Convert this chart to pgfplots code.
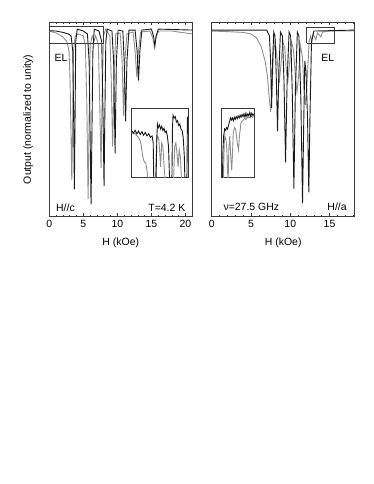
\documentclass[border=0pt]{standalone}
\usepackage{fontspec}
\setmainfont{Liberation Sans}
\usepackage{pgfplots}
\pgfplotsset{compat=1.18}
\definecolor{dk}{HTML}{1A1A1A}
\definecolor{gr}{HTML}{8E8E8E}
\definecolor{fr}{HTML}{3A3A3A}
\begin{document}
\fontsize{10.5}{12.5}\selectfont
\begin{tikzpicture}
\useasboundingbox (0bp,0bp) rectangle (374bp,484bp);
\pgfplotsset{
  main/.style={scale only axis, width=143bp, height=194.4bp, ymin=0, ymax=1,
    ytick=\empty, xtick distance=5, minor x tick num=4, tick align=inside,
    major tick length=3.2bp, minor tick length=1.8bp,
    axis line style={fr, line width=0.8pt}, every tick/.style={fr, line width=0.6pt},
    /pgf/number format/assume math mode=true,
    ticklabel style={font=\fontsize{10.5}{12.5}\selectfont},
    xlabel={H (kOe)},
    every axis x label/.style={at={(axis description cs:0.5,-0.134)}, anchor=center},
    every axis y label/.style={at={(axis description cs:-0.147,0.5)}, rotate=90, anchor=center},
  },
  inset/.style={scale only axis, height=69bp, xmin=0, xmax=1, ymin=0, ymax=1,
    xtick=\empty, ytick=\empty, axis line style={fr, line width=0.7pt}},
  bk/.style={dk, line width=0.9pt, no marks},
  gy/.style={gr, line width=0.9pt, no marks},
}
% ---------------- left panel ----------------
\begin{axis}[main, at={(49.3bp,267.3bp)}, anchor=south west, xmin=0, xmax=21,
  ylabel={Output (normalized to unity)}]
\addplot[gy] coordinates {(0,0.955) (1,0.945) (2,0.925) (2.6,0.9) (2.9,0.85) (3.05,0.7) (3.18,0.45) (3.3,0.19) (3.42,0.45) (3.55,0.85) (3.8,0.93) (4.3,0.94) (5.0,0.93) (5.3,0.88) (5.5,0.6) (5.7,0.09) (5.85,0.5) (6.0,0.88) (6.3,0.93) (6.6,0.905) (6.8,0.93) (7.0,0.91) (7.2,0.89) (7.4,0.6) (7.6,0.25) (7.75,0.6) (7.95,0.93) (8.3,0.965) (8.9,0.93) (9.1,0.7) (9.3,0.36) (9.5,0.7) (9.75,0.94) (10.4,0.945) (10.7,0.8) (10.9,0.52) (11.1,0.8) (11.4,0.94) (12.3,0.95) (12.6,0.85) (12.85,0.72) (13.1,0.85) (13.4,0.95) (14.8,0.955) (15.2,0.92) (15.45,0.87) (15.7,0.93) (16.1,0.955) (18,0.955) (19,0.95) (20,0.945) (21,0.94)};
\addplot[bk] coordinates {(0,0.957) (1,0.955) (2,0.948) (2.8,0.94) (3.2,0.93) (3.45,0.85) (3.58,0.5) (3.68,0.14) (3.78,0.5) (3.88,0.9) (4.1,0.965) (5,0.955) (5.6,0.94) (5.85,0.8) (6.0,0.4) (6.13,0.064) (6.25,0.4) (6.4,0.85) (6.6,0.965) (7.3,0.955) (7.7,0.9) (7.9,0.5) (8.04,0.158) (8.15,0.5) (8.3,0.9) (8.5,0.965) (9.2,0.955) (9.45,0.8) (9.66,0.326) (9.85,0.8) (10.1,0.96) (10.8,0.955) (11.0,0.8) (11.2,0.49) (11.4,0.8) (11.7,0.96) (12.6,0.96) (12.9,0.85) (13.1,0.7) (13.3,0.85) (13.6,0.96) (15.0,0.965) (15.3,0.93) (15.5,0.88) (15.7,0.93) (16,0.965) (21,0.96)};
\addplot[fr, line width=0.7pt, no marks] coordinates {(0,0.89) (8.0,0.89) (8.0,0.98) (0,0.98)};
\node[anchor=west, inner sep=0] at (axis cs:0.74,0.815) {EL};
\node[anchor=west, inner sep=0] at (axis cs:0.98,0.046) {H//c};
\node[anchor=east, inner sep=0] at (axis cs:20.0,0.046) {T=4.2 K};
\end{axis}
\begin{axis}[inset, at={(131.7bp,306.7bp)}, anchor=south west, width=56.6bp]
\addplot[gy] coordinates {(0,0.66) (0.03,0.63) (0.06,0.64) (0.09,0.6) (0.12,0.58) (0.15,0.53) (0.17,0.45) (0.19,0.33) (0.21,0.25) (0.23,0.22) (0.25,0.2) (0.27,0.1) (0.29,-0.05) (0.42,-0.05) (0.44,0.55) (0.46,0.6) (0.48,0.55) (0.5,0.3) (0.51,0.15) (0.53,0.5) (0.55,0.45) (0.57,0.2) (0.59,-0.05) (0.74,-0.05) (0.76,0.45) (0.78,0.5) (0.8,0.35) (0.82,0.15) (0.84,0.4) (0.86,0.3) (0.88,-0.05)};
\addplot[bk] coordinates {(0,0.675) (0.03,0.64) (0.06,0.68) (0.09,0.63) (0.12,0.67) (0.15,0.62) (0.18,0.66) (0.21,0.61) (0.24,0.65) (0.27,0.6) (0.3,0.63) (0.33,0.58) (0.36,0.6) (0.38,0.5) (0.39,-0.05) (0.43,-0.05) (0.445,0.6) (0.455,0.77) (0.47,0.72) (0.49,0.76) (0.51,0.7) (0.53,0.74) (0.55,0.68) (0.57,0.71) (0.59,0.65) (0.61,0.67) (0.63,0.6) (0.65,0.45) (0.67,-0.05) (0.71,-0.05) (0.72,0.7) (0.73,0.9) (0.75,0.86) (0.77,0.88) (0.79,0.8) (0.81,0.82) (0.83,0.75) (0.85,0.77) (0.87,0.7) (0.89,0.68) (0.91,0.58) (0.93,0.3) (0.94,-0.05) (0.975,-0.05) (0.985,0.87) (1.0,0.88)};
\end{axis}
% ---------------- right panel ----------------
\begin{axis}[main, at={(211.7bp,267.3bp)}, anchor=south west, xmin=0, xmax=18.2]
\addplot[gy] coordinates {(0,0.955) (2,0.952) (4,0.948) (5,0.94) (5.7,0.92) (6.3,0.875) (6.8,0.8) (7.1,0.72) (7.3,0.62) (7.5,0.54) (7.65,0.62) (7.85,0.85) (8.1,0.9) (8.35,0.8) (8.6,0.69) (8.85,0.8) (9.05,0.9) (9.3,0.87) (9.5,0.75) (9.7,0.7) (9.9,0.78) (10.15,0.9) (10.4,0.86) (10.65,0.72) (10.85,0.64) (11.05,0.72) (11.3,0.88) (11.55,0.82) (11.75,0.65) (11.95,0.575) (12.15,0.7) (12.4,0.9) (12.6,0.93) (12.75,0.9) (12.9,0.94) (13.25,0.91) (13.45,0.945) (13.9,0.925) (14.1,0.95) (15,0.955) (18.2,0.955)};
\addplot[bk] coordinates {(0,0.96) (7.0,0.96) (7.35,0.93) (7.5,0.8) (7.62,0.56) (7.75,0.8) (7.9,0.95) (8.05,0.93) (8.2,0.75) (8.38,0.44) (8.55,0.75) (8.75,0.95) (9.0,0.93) (9.2,0.7) (9.4,0.28) (9.6,0.7) (9.85,0.95) (10.05,0.93) (10.25,0.65) (10.46,0.145) (10.65,0.65) (10.9,0.95) (11.1,0.93) (11.35,0.6) (11.56,0.07) (11.72,0.5) (11.85,0.8) (12.0,0.75) (12.2,0.5) (12.36,0.125) (12.5,0.5) (12.7,0.9) (13.0,0.955) (18.2,0.96)};
\addplot[fr, line width=0.7pt, no marks] coordinates {(12.07,0.892) (15.6,0.892) (15.6,0.974) (12.07,0.974) (12.07,0.892)};
\node[anchor=west, inner sep=0] at (axis cs:13.94,0.818) {EL};
\node[anchor=west, inner sep=0] at (axis cs:1.48,0.052) {ν=27.5 GHz};
\node[anchor=east, inner sep=0] at (axis cs:17.2,0.052) {H//a};
\end{axis}
\begin{axis}[inset, at={(221.7bp,306.7bp)}, anchor=south west, width=32.3bp]
\addplot[gy] coordinates {(0.05,-0.05) (0.08,0.5) (0.1,0.6) (0.13,0.55) (0.16,0.4) (0.18,0.1) (0.2,-0.05) (0.22,0.4) (0.25,0.6) (0.28,0.3) (0.31,0.1) (0.33,0.3) (0.36,0.65) (0.4,0.72) (0.44,0.68) (0.48,0.5) (0.52,0.4) (0.55,0.6) (0.6,0.8) (0.65,0.82) (0.7,0.85) (0.75,0.84) (0.8,0.87) (0.85,0.86) (0.9,0.89) (0.95,0.87) (1.0,0.9)};
\addplot[bk] coordinates {(0.02,-0.05) (0.04,0.4) (0.06,0.6) (0.08,0.66) (0.09,0.7) (0.12,0.68) (0.15,0.72) (0.18,0.7) (0.21,0.75) (0.24,0.8) (0.27,0.86) (0.3,0.83) (0.33,0.86) (0.36,0.82) (0.39,0.87) (0.42,0.84) (0.45,0.88) (0.48,0.85) (0.51,0.89) (0.54,0.86) (0.57,0.9) (0.6,0.87) (0.63,0.91) (0.66,0.88) (0.69,0.92) (0.72,0.87) (0.75,0.93) (0.78,0.88) (0.81,0.92) (0.84,0.89) (0.87,0.94) (0.9,0.88) (0.93,0.93) (0.96,0.9) (1.0,0.92)};
\end{axis}
\end{tikzpicture}
\end{document}
